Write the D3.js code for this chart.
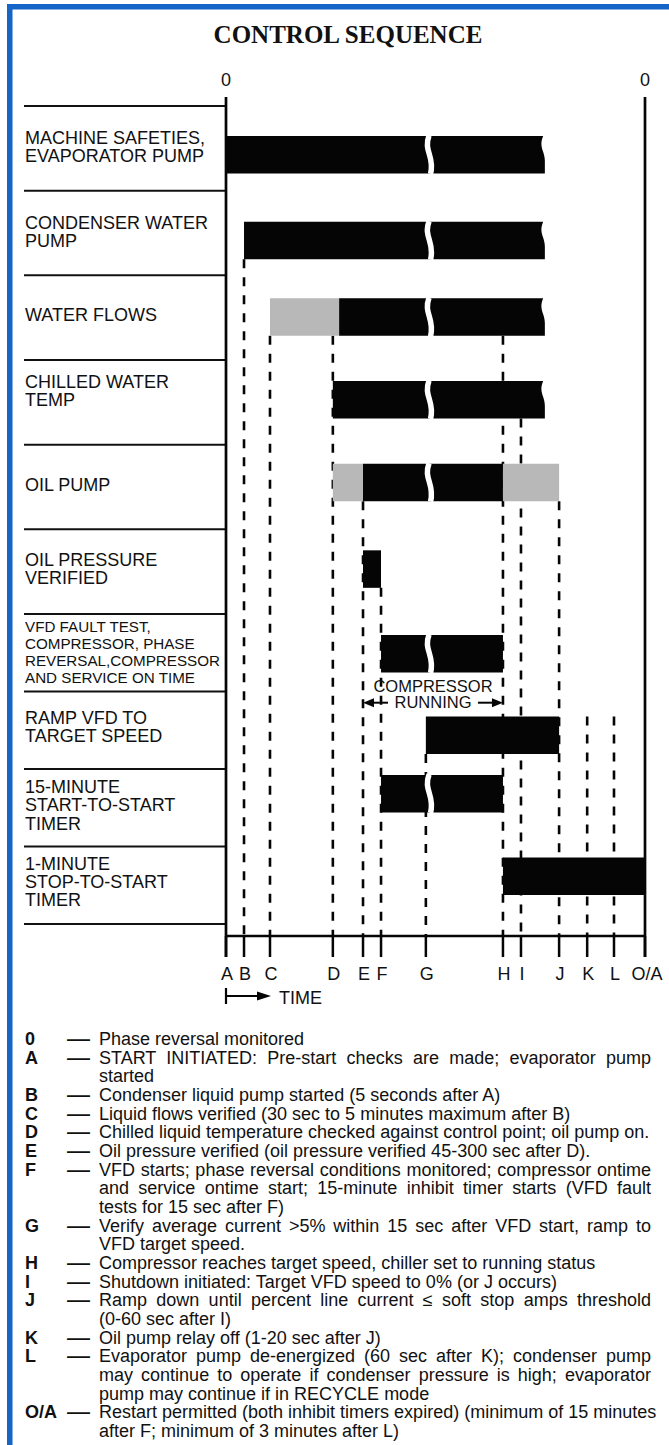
<!DOCTYPE html>
<html>
<head>
<meta charset="utf-8">
<script src="https://cdn.jsdelivr.net/npm/d3@7"></script>
<style>
  html, body { margin: 0; padding: 0; background: #fff; }
  svg { display: block; }
  text { font-family: "Liberation Sans", Arial, Helvetica, sans-serif; fill: #111; }
</style>
</head>
<body>
<svg id="chart" width="669" height="1445"></svg>
<script>

// ---- data ----

var rowLabels = [
    ["MACHINE SAFETIES,", "EVAPORATOR PUMP"],
    ["CONDENSER WATER", "PUMP"],
    ["WATER FLOWS"],
    ["CHILLED WATER", "TEMP"],
    ["OIL PUMP"],
    ["OIL PRESSURE", "VERIFIED"],
    ["VFD FAULT TEST,", "COMPRESSOR, PHASE", "REVERSAL,COMPRESSOR", "AND SERVICE ON TIME"],
    ["RAMP VFD TO", "TARGET SPEED"],
    ["15-MINUTE", "START-TO-START", "TIMER"],
    ["1-MINUTE", "STOP-TO-START", "TIMER"]
];

// events on the time axis (relative time, A = 0, O/A = 100)
var eventNames = ["A", "B", "C", "D", "E", "F", "G", "H", "I", "J", "K", "L", "O/A"];
var eventTimes = [0, 4.3, 10.5, 25.5, 32.7, 37.0, 47.7, 66.1, 70.4, 79.5, 86.2, 92.6, 100];

var breakTime = 48.7;   // where the time line is broken
var openEnd = 76.1;     // where the "still going" bars stop

// bar segments of every row. state: on = active (black), wait = pending (grey)
var segments = [
    {row: 0, from: 0,    to: openEnd, state: "on",   broken: true,  open: true},
    {row: 1, from: 4.3,  to: openEnd, state: "on",   broken: true,  open: true},
    {row: 2, from: 10.5, to: 27.0,    state: "wait", broken: false, open: false},
    {row: 2, from: 27.0, to: openEnd, state: "on",   broken: true,  open: true},
    {row: 3, from: 25.5, to: openEnd, state: "on",   broken: true,  open: true},
    {row: 4, from: 25.5, to: 32.7,    state: "wait", broken: false, open: false},
    {row: 4, from: 32.7, to: 66.1,    state: "on",   broken: true,  open: false},
    {row: 4, from: 66.1, to: 79.5,    state: "wait", broken: false, open: false},
    {row: 5, from: 32.7, to: 37.0,    state: "on",   broken: false, open: false},
    {row: 6, from: 37.0, to: 66.1,    state: "on",   broken: true,  open: false},
    {row: 7, from: 47.7, to: 79.5,    state: "on",   broken: false, open: false},
    {row: 8, from: 37.0, to: 66.1,    state: "on",   broken: true,  open: false},
    {row: 9, from: 66.1, to: 100,     state: "on",   broken: false, open: false}
];

// dashed guide of each event starts at the top or bottom of a row's bar
var guides = [
    {event: "B", row: 1, edge: "bottom"},
    {event: "C", row: 2, edge: "bottom"},
    {event: "D", row: 2, edge: "bottom"},
    {event: "E", row: 4, edge: "bottom"},
    {event: "F", row: 5, edge: "bottom"},
    {event: "G", row: 7, edge: "bottom"},
    {event: "H", row: 2, edge: "bottom"},
    {event: "I", row: 3, edge: "bottom"},
    {event: "J", row: 4, edge: "bottom"},
    {event: "K", row: 7, edge: "top"},
    {event: "L", row: 7, edge: "top"}
];

var legendKeys = ["0", "A", "B", "C", "D", "E", "F", "G", "H", "I", "J", "K", "L", "O/A"];
var legendTexts = [
    ["Phase reversal monitored"],
    ["START INITIATED: Pre-start checks are made; evaporator pump", "started"],
    ["Condenser liquid pump started (5 seconds after A)"],
    ["Liquid flows verified (30 sec to 5 minutes maximum after B)"],
    ["Chilled liquid temperature checked against control point; oil pump on."],
    ["Oil pressure verified (oil pressure verified 45-300 sec after D)."],
    ["VFD starts; phase reversal conditions monitored; compressor ontime",
     "and service ontime start; 15-minute inhibit timer starts (VFD fault",
     "tests for 15 sec after F)"],
    ["Verify average current >5% within 15 sec after VFD start, ramp to", "VFD target speed."],
    ["Compressor reaches target speed, chiller set to running status"],
    ["Shutdown initiated: Target VFD speed to 0% (or J occurs)"],
    ["Ramp down until percent line current \u2264 soft stop amps threshold", "(0-60 sec after I)"],
    ["Oil pump relay off (1-20 sec after J)"],
    ["Evaporator pump de-energized (60 sec after K); condenser pump",
     "may continue to operate if condenser pressure is high; evaporator",
     "pump may continue if in RECYCLE mode"],
    ["Restart permitted (both inhibit timers expired) (minimum of 15 minutes",
     "after F; minimum of 3 minutes after L)"]
];


// ---- layout ----

var svg = d3.select("#chart");

var x = d3.scaleLinear().domain([0, 100]).range([226, 645]);
var rowY = d3.scaleLinear().domain([0, 6, 10]).range([106, 614, 924]); // row separators
var axisY = 936;
var barH = 37.5;
var barDy = [30, 31, 23, 21, 19, 21, 21, 25, 6, 11];          // bar top inside its row
var labelDy = [38, 38, 46, 28, 46.7, 36.7, 17.7, 32, 24, 23];  // first baseline inside row

var black = "#050505", grey = "#b8b8b8";

function timeOf(name) { return eventTimes[eventNames.indexOf(name)]; }
function barTop(r) { return rowY(r) + barDy[r]; }

// blue frame (top and left edges)
svg.append("path")
    .attr("d", "M9.75,1445 V6.75 H669")
    .attr("fill", "none")
    .attr("stroke", "#1565c8")
    .attr("stroke-width", 5.5);

// title
svg.append("text")
    .attr("x", 348).attr("y", 43)
    .attr("text-anchor", "middle")
    .style("font-family", "'Liberation Serif', 'Times New Roman', serif")
    .style("font-weight", "bold")
    .style("font-size", "25px")
    .text("CONTROL SEQUENCE");

// "0" above both ends
svg.selectAll(".zero").data([0, 100]).enter().append("text")
    .attr("x", function (d) { return x(d); })
    .attr("y", 86)
    .attr("text-anchor", "middle")
    .style("font-size", "18px")
    .text("0");

// row separators
svg.selectAll(".sep").data(d3.range(11)).enter().append("line")
    .attr("x1", 24).attr("x2", x(0))
    .attr("y1", function (d) { return rowY(d); })
    .attr("y2", function (d) { return rowY(d); })
    .attr("stroke", "#111").attr("stroke-width", 2);

// row labels
rowLabels.forEach(function (lines, r) {
    var small = lines.length > 3;
    var lh = small ? 17.2 : 18.3;
    var t = svg.append("text")
        .style("font-size", small ? "15.2px" : "18px");
    lines.forEach(function (s, k) {
        t.append("tspan")
            .attr("x", 25)
            .attr("y", rowY(r) + labelDy[r] + k * lh)
            .text(s);
    });
});

// dashed guides
svg.selectAll(".guide").data(guides).enter().append("line")
    .attr("x1", function (d) { return x(timeOf(d.event)); })
    .attr("x2", function (d) { return x(timeOf(d.event)); })
    .attr("y1", function (d) { return barTop(d.row) + (d.edge === "bottom" ? barH : 0); })
    .attr("y2", axisY)
    .attr("stroke", black)
    .attr("stroke-width", 2.6)
    .attr("stroke-dasharray", "9,9");

// axes
[0, 100].forEach(function (t) {
    svg.append("line")
        .attr("x1", x(t)).attr("x2", x(t))
        .attr("y1", 97).attr("y2", 957)
        .attr("stroke", black).attr("stroke-width", 2.7);
});
svg.append("line")
    .attr("x1", x(0)).attr("x2", x(100))
    .attr("y1", axisY).attr("y2", axisY)
    .attr("stroke", black).attr("stroke-width", 2.7);

// ticks and event letters
svg.selectAll(".tick").data(eventTimes).enter().append("line")
    .attr("x1", function (d) { return x(d); })
    .attr("x2", function (d) { return x(d); })
    .attr("y1", axisY).attr("y2", 957)
    .attr("stroke", black).attr("stroke-width", 2.5);

svg.selectAll(".ev").data(eventNames).enter().append("text")
    .attr("x", function (d, i) { return x(eventTimes[i]) + (d === "O/A" ? 2 : 1); })
    .attr("y", 980)
    .attr("text-anchor", "middle")
    .style("font-size", "18px")
    .text(function (d) { return d; });

// bars
svg.selectAll(".bar").data(segments).enter().append("path")
    .attr("fill", function (d) { return d.state === "on" ? black : grey; })
    .attr("d", function (d) {
        var x0 = x(d.from), e = x(d.to), t = barTop(d.row), b = t + barH;
        if (!d.open) {
            return "M" + x0 + "," + t + "H" + e + "V" + b + "H" + x0 + "Z";
        }
        // wavy right edge: the sequence keeps going
        return "M" + x0 + "," + t + "H" + (e - 1.7) +
            "C" + (e - 6.5) + "," + (t + barH * 0.3) + " " + e + "," + (t + barH * 0.4) + " " + e + "," + (t + barH * 0.66) +
            "V" + b + "H" + x0 + "Z";
    });

// breaks in the bars
svg.selectAll(".brk").data(segments.filter(function (d) { return d.broken; })).enter().append("path")
    .attr("fill", "none")
    .attr("stroke", "#fff")
    .attr("stroke-width", 5.5)
    .attr("d", function (d) {
        var c = x(breakTime), t = barTop(d.row) - 0.5, b = t + barH + 1;
        return "M" + (c - 1) + "," + t +
            "C" + (c - 7) + "," + (t + barH * 0.42) + " " + (c + 5) + "," + (t + barH * 0.55) + " " + (c + 0.5) + "," + b;
    });

// "COMPRESSOR RUNNING" between E and H
var cx0 = x(timeOf("E")), cx1 = x(timeOf("H")), cmid = (cx0 + cx1) / 2, ay = 702.7;
svg.append("text").attr("x", cmid).attr("y", 691.7).attr("text-anchor", "middle")
    .style("font-size", "16.5px").text("COMPRESSOR");
svg.append("text").attr("x", cmid).attr("y", 707.7).attr("text-anchor", "middle")
    .style("font-size", "16.5px").text("RUNNING");
svg.append("line").attr("x1", cx0 + 8).attr("x2", cx0 + 25).attr("y1", ay).attr("y2", ay)
    .attr("stroke", black).attr("stroke-width", 2);
svg.append("line").attr("x1", cx1 - 25).attr("x2", cx1 - 8).attr("y1", ay).attr("y2", ay)
    .attr("stroke", black).attr("stroke-width", 2);
svg.append("path").attr("fill", black)
    .attr("d", "M" + cx0 + "," + ay + "L" + (cx0 + 11) + "," + (ay - 4.5) + "V" + (ay + 4.5) + "Z");
svg.append("path").attr("fill", black)
    .attr("d", "M" + cx1 + "," + ay + "L" + (cx1 - 11) + "," + (ay - 4.5) + "V" + (ay + 4.5) + "Z");

// TIME arrow
var tx = x(0), ty = 996;
svg.append("line").attr("x1", tx).attr("x2", tx).attr("y1", ty - 8).attr("y2", ty + 8)
    .attr("stroke", black).attr("stroke-width", 2.2);
svg.append("line").attr("x1", tx).attr("x2", tx + 33).attr("y1", ty).attr("y2", ty)
    .attr("stroke", black).attr("stroke-width", 2);
svg.append("path").attr("fill", black)
    .attr("d", "M" + (tx + 45) + "," + ty + "L" + (tx + 31) + "," + (ty - 4.5) + "V" + (ty + 4.5) + "Z");
svg.append("text").attr("x", tx + 53).attr("y", 1003.6)
    .style("font-size", "18px").text("TIME");

// legend
var lx = 99, lw = 552, ly = 1045, llh = 18.67, line = 0;
legendKeys.forEach(function (k, i) {
    var y = ly + line * llh;
    svg.append("text").attr("x", 25).attr("y", y)
        .style("font-size", "18px").style("font-weight", "bold").text(k);
    svg.append("text").attr("x", 67).attr("y", y)
        .attr("textLength", 23).attr("lengthAdjust", "spacingAndGlyphs")
        .style("font-size", "18px").style("font-weight", "bold").text("\u2014");
    legendTexts[i].forEach(function (s, j) {
        var t = svg.append("text").attr("x", lx).attr("y", ly + line * llh)
            .style("font-size", "18px").text(s);
        if (j < legendTexts[i].length - 1) {
            var gaps = s.split(" ").length - 1;
            var extra = lw - t.node().getComputedTextLength();
            if (gaps > 0 && extra > 0) t.attr("word-spacing", extra / gaps);
        }
        line++;
    });
});

</script>
</body>
</html>
